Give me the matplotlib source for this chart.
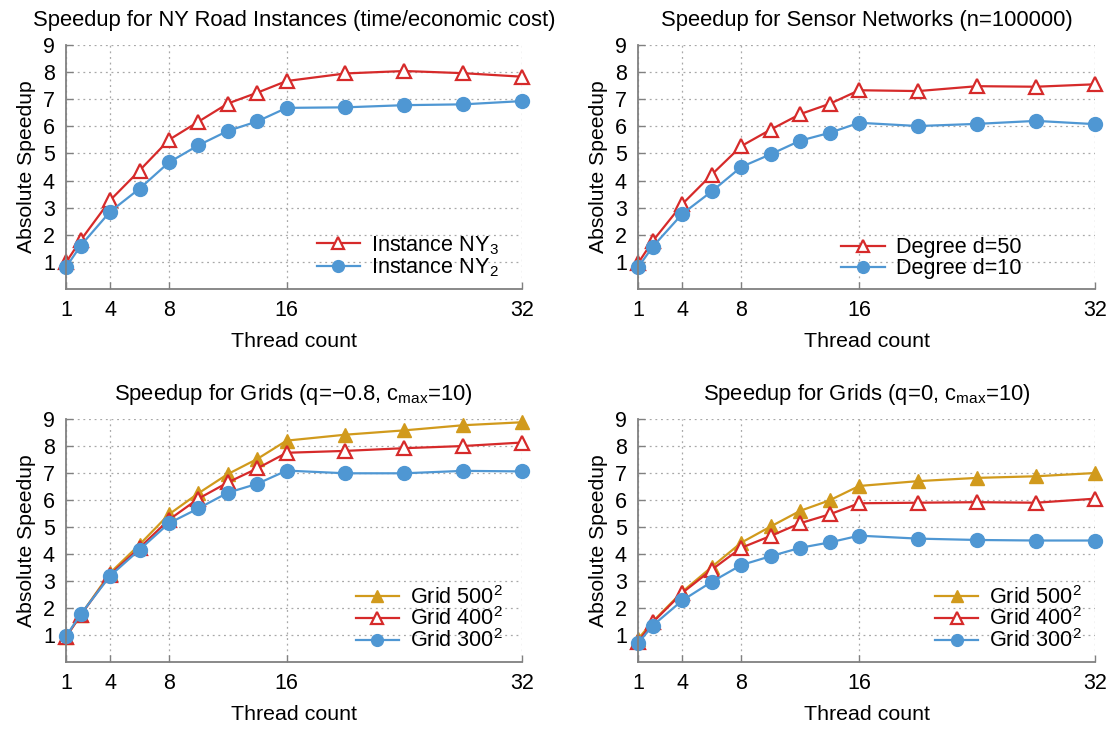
import matplotlib
matplotlib.use('Agg')
import matplotlib.pyplot as plt

plt.rcParams['font.family'] = ['Liberation Sans', 'DejaVu Sans']
plt.rcParams['mathtext.fontset'] = 'custom'
plt.rcParams['mathtext.rm'] = 'Liberation Sans'
plt.rcParams['mathtext.it'] = 'Liberation Sans'

# Thread counts (x axis)
threads = [1, 2, 4, 6, 8, 10, 12, 14, 16, 20, 24, 28, 32]
xticks = [1, 4, 8, 16, 32]
yticks = [1, 2, 3, 4, 5, 6, 7, 8, 9]

# NY road instances
ny3 = [0.98, 1.8, 3.27, 4.37, 5.5, 6.17, 6.84, 7.24, 7.67, 7.95, 8.04, 7.96, 7.83]
ny2 = [0.8, 1.6, 2.85, 3.7, 4.67, 5.3, 5.83, 6.18, 6.68, 6.7, 6.78, 6.81, 6.93]

# Sensor networks
deg50 = [0.95, 1.77, 3.13, 4.22, 5.27, 5.88, 6.45, 6.83, 7.33, 7.3, 7.48, 7.46, 7.55]
deg10 = [0.8, 1.56, 2.77, 3.6, 4.5, 4.97, 5.47, 5.76, 6.13, 6.01, 6.09, 6.2, 6.08]

# Grids q=-0.8
qn_500 = [0.93, 1.74, 3.3, 4.35, 5.47, 6.25, 6.96, 7.52, 8.2, 8.42, 8.58, 8.77, 8.88]
qn_400 = [0.92, 1.74, 3.24, 4.23, 5.27, 6.05, 6.65, 7.17, 7.75, 7.82, 7.92, 8.0, 8.13]
qn_300 = [0.95, 1.77, 3.19, 4.16, 5.14, 5.69, 6.27, 6.6, 7.09, 6.99, 6.99, 7.08, 7.06]

# Grids q=0
q0_500 = [0.85, 1.5, 2.6, 3.52, 4.42, 5.02, 5.6, 5.99, 6.52, 6.7, 6.82, 6.88, 7.0]
q0_400 = [0.75, 1.47, 2.56, 3.42, 4.23, 4.67, 5.14, 5.47, 5.88, 5.9, 5.92, 5.9, 6.05]
q0_300 = [0.7, 1.35, 2.28, 2.97, 3.59, 3.92, 4.23, 4.43, 4.68, 4.57, 4.52, 4.5, 4.5]

RED = '#d62a2a'
BLUE = '#4f97d3'
GOLD = '#d19a1c'

styles = {
    'red': dict(color=RED, marker='^', markersize=9.5, markerfacecolor='white',
                markeredgecolor=RED, markeredgewidth=1.6, linewidth=1.6),
    'blue': dict(color=BLUE, marker='o', markersize=10, linewidth=1.6),
    'gold': dict(color=GOLD, marker='^', markersize=10, linewidth=1.6),
}

fig = plt.figure(figsize=(11.11, 7.29), dpi=100)
axes = [
    fig.add_axes([0.0594, 0.6036, 0.4104, 0.3347]),
    fig.add_axes([0.5743, 0.6036, 0.4113, 0.3347]),
    fig.add_axes([0.0594, 0.0919, 0.4104, 0.3333]),
    fig.add_axes([0.5743, 0.0919, 0.4113, 0.3333]),
]

panels = [
    ('Speedup for NY Road Instances (time/economic cost)',
     [(ny3, 'red', 'Instance NY$_3$'), (ny2, 'blue', 'Instance NY$_2$')], (0.55, 0.04), 0.0),
    ('Speedup for Sensor Networks (n=100000)',
     [(deg50, 'red', 'Degree d=50'), (deg10, 'blue', 'Degree d=10')], (0.445, 0.04), 0.0),
    ('Speedup for Grids (q=\u22120.8, c$_{\\mathrm{max}}$=10)',
     [(qn_500, 'gold', 'Grid 500$^2$'), (qn_400, 'red', 'Grid 400$^2$'),
      (qn_300, 'blue', 'Grid 300$^2$')], (0.635, 0.04), -0.05),
    ('Speedup for Grids (q=0, c$_{\\mathrm{max}}$=10)',
     [(q0_500, 'gold', 'Grid 500$^2$'), (q0_400, 'red', 'Grid 400$^2$'),
      (q0_300, 'blue', 'Grid 300$^2$')], (0.65, 0.04), -0.05),
]

for ax, (title, series, leg_pos, spacing) in zip(axes, panels):
    for vals, key, label in series:
        ax.plot(threads, vals, label=label, clip_on=False, **styles[key])
    ax.set_xlim(1, 32)
    ax.set_ylim(0, 9)
    ax.set_xticks(xticks)
    ax.set_yticks(yticks)
    ax.tick_params(direction='in', length=5, width=1, color='#808080',
                   labelsize=15.5, pad=8)
    ax.grid(True, linestyle=(0, (1.5, 3)), color='#a8a8a8', linewidth=0.9)
    ax.set_axisbelow(True)
    for side in ['top', 'right']:
        ax.spines[side].set_visible(False)
    for side in ['left', 'bottom']:
        ax.spines[side].set_color('#808080')
        ax.spines[side].set_linewidth(1.3)
    ax.set_title(title, fontsize=15.8, pad=14)
    ax.set_xlabel('Thread count', fontsize=15.4, labelpad=8)
    ax.set_ylabel('Absolute Speedup', fontsize=15.2, labelpad=5)
    ax.legend(loc='lower left', bbox_to_anchor=leg_pos, frameon=False,
              fontsize=15.6, borderpad=0, borderaxespad=0, labelspacing=spacing,
              handlelength=2.0, handletextpad=0.5, markerscale=0.85)

plt.savefig('out.png', dpi=100)
plt.close()
